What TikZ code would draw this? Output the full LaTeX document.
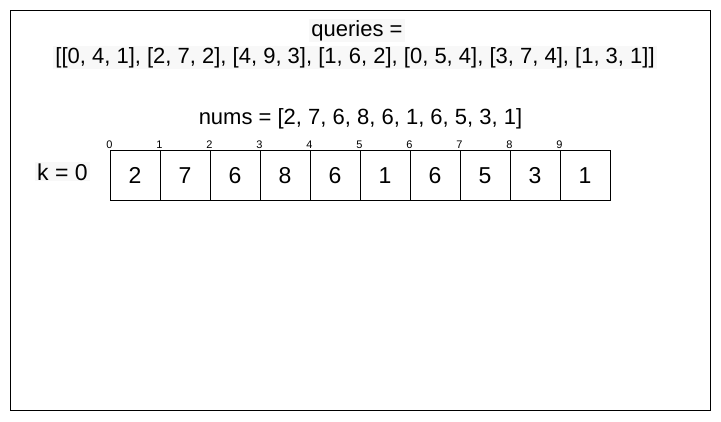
\documentclass[tikz,border=0pt]{standalone}
\usepackage{fontspec}
\setmainfont{Liberation Sans}
\definecolor{lbg}{RGB}{248,248,248}
\begin{document}
\begin{tikzpicture}[x=1pt,y=-1pt,
  txt/.style={font=\fontsize{22}{24}\selectfont, inner xsep=2pt, inner ysep=1pt, anchor=base},
  hl/.style={fill=lbg},
  cell/.style={draw, line width=0.9pt, minimum width=50pt, minimum height=50pt, inner sep=0pt, text height=16.5pt, text depth=0pt, font=\fontsize{23}{24}\selectfont},
  idx/.style={font=\fontsize{11}{12}\selectfont, inner sep=0pt, anchor=base},
  frame/.style={draw, line width=1pt, inner sep=0pt, anchor=north west, minimum width=700pt, minimum height=400pt}]
\useasboundingbox (0,0) rectangle (721,421);
\node[frame] (outer) at (10,10) {};
\node[txt,hl] (q1) at (357,36) {queries =};
\node[txt,hl] (q2) at (355,63) {[[0, 4, 1], [2, 7, 2], [4, 9, 3], [1, 6, 2], [0, 5, 4], [3, 7, 4], [1, 3, 1]]};
\node[txt] (nums) at (360.5,124) {nums = [2, 7, 6, 8, 6, 1, 6, 5, 3, 1]};
\node[txt,hl,font=\fontsize{23}{24}\selectfont] (k) at (62.5,180) {k = 0};
\foreach \i/\v in {0/2,1/7,2/6,3/8,4/6,5/1,6/6,7/5,8/3,9/1}{
  \node[cell] (c\i) at (135+50*\i,175) {\v};
  \node[idx] (i\i) at (109.5+50*\i,148) {\i};
}
\end{tikzpicture}
\end{document}
